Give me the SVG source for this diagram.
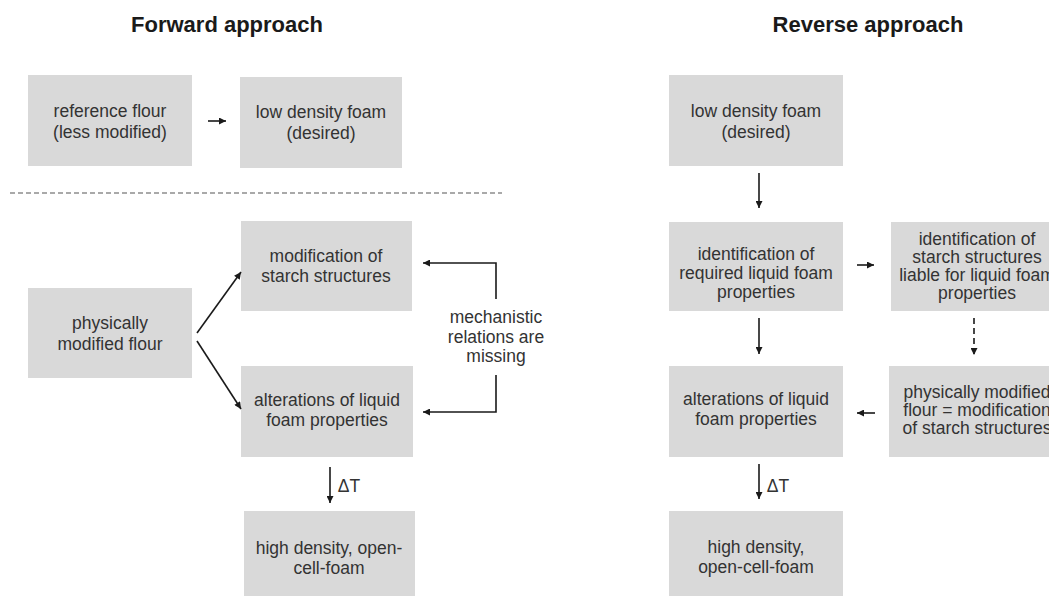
<svg xmlns="http://www.w3.org/2000/svg" width="1049" height="596" viewBox="0 0 1049 596">
<defs>
<marker id="ah" viewBox="0 0 10 10" refX="10" refY="5" markerWidth="8" markerHeight="7" markerUnits="userSpaceOnUse" orient="auto">
<path d="M0,0 L10,5 L0,10 z" fill="#1a1a1a"/>
</marker>
<style>
.box{fill:#d9d9d9;}
.t{font-family:"Liberation Sans",Arial,sans-serif;font-size:17.5px;fill:#333;text-anchor:middle;}
.title{font-family:"Liberation Sans",Arial,sans-serif;font-size:22px;font-weight:bold;fill:#1a1a1a;text-anchor:middle;}
.c{stroke:#1a1a1a;stroke-width:1.6;fill:none;marker-end:url(#ah);}
.cd{stroke:#1a1a1a;stroke-width:1.6;fill:none;stroke-dasharray:6,4;marker-end:url(#ah);}
.sep{stroke:#555;stroke-width:1.2;stroke-dasharray:5,3;}
</style>
</defs>
<rect width="1049" height="596" fill="#fff"/>
<text class="title" x="227" y="32">Forward approach</text>
<text class="title" x="868" y="32">Reverse approach</text>
<line class="sep" x1="10" y1="193" x2="502" y2="193"/>

<g id="f-ref"><rect class="box" x="28" y="75" width="164" height="91"/><text class="t" x="110" y="117">reference flour</text><text class="t" x="110" y="138">(less modified)</text></g>
<g id="f-low"><rect class="box" x="240" y="77" width="162" height="91"/><text class="t" x="321" y="118">low density foam</text><text class="t" x="321" y="139">(desired)</text></g>
<g id="f-phys"><rect class="box" x="28" y="288" width="164" height="90"/><text class="t" x="110" y="329">physically</text><text class="t" x="110" y="350">modified flour</text></g>
<g id="f-mod"><rect class="box" x="241" y="221" width="171" height="90"/><text class="t" x="326" y="262">modification of</text><text class="t" x="326" y="282">starch structures</text></g>
<g id="f-alt"><rect class="box" x="241" y="366" width="172" height="91"/><text class="t" x="327" y="406">alterations of liquid</text><text class="t" x="327" y="426">foam properties</text></g>
<g id="f-high"><rect class="box" x="244" y="511" width="171" height="90"/><text class="t" x="329" y="554">high density, open-</text><text class="t" x="329" y="574">cell-foam</text></g>
<g id="f-mech"><text class="t" x="496" y="323">mechanistic</text><text class="t" x="496" y="343">relations are</text><text class="t" x="496" y="362">missing</text></g>

<g id="r-low"><rect class="box" x="669" y="75" width="174" height="91"/><text class="t" x="756" y="117">low density foam</text><text class="t" x="756" y="138">(desired)</text></g>
<g id="r-ident"><rect class="box" x="669" y="222" width="174" height="89"/><text class="t" x="756" y="260">identification of</text><text class="t" x="756" y="279">required liquid foam</text><text class="t" x="756" y="298">properties</text></g>
<g id="r-starch"><rect class="box" x="891" y="222" width="172" height="89"/><text class="t" x="977" y="245">identification of</text><text class="t" x="977" y="263">starch structures</text><text class="t" x="977" y="281">liable for liquid foam</text><text class="t" x="977" y="299">properties</text></g>
<g id="r-alt"><rect class="box" x="669" y="366" width="174" height="91"/><text class="t" x="756" y="405">alterations of liquid</text><text class="t" x="756" y="425">foam properties</text></g>
<g id="r-phys"><rect class="box" x="889" y="366" width="175" height="91"/><text class="t" x="977" y="398">physically modified</text><text class="t" x="977" y="416">flour = modification</text><text class="t" x="977" y="434">of starch structures</text></g>
<g id="r-high"><rect class="box" x="669" y="511" width="174" height="90"/><text class="t" x="756" y="553">high density,</text><text class="t" x="756" y="573">open-cell-foam</text></g>

<g id="connectors">
<line class="c" x1="208" y1="121" x2="226" y2="121"/>
<line class="c" x1="197" y1="333" x2="241" y2="272"/>
<line class="c" x1="197" y1="341" x2="241" y2="409"/>
<path class="c" d="M496,299 V263 H423"/>
<path class="c" d="M496,375 V412 H423"/>
<line class="c" x1="330" y1="467" x2="330" y2="503"/>
<text class="t" x="349" y="492">ΔT</text>
<line class="c" x1="759" y1="173" x2="759" y2="208"/>
<line class="c" x1="857" y1="265" x2="874" y2="265"/>
<line class="c" x1="759" y1="318" x2="759" y2="354"/>
<line class="cd" x1="974" y1="318" x2="974" y2="355"/>
<line class="c" x1="875" y1="413" x2="857" y2="413"/>
<line class="c" x1="759" y1="464" x2="759" y2="499"/>
<text class="t" x="778" y="492">ΔT</text>
</g>
</svg>
